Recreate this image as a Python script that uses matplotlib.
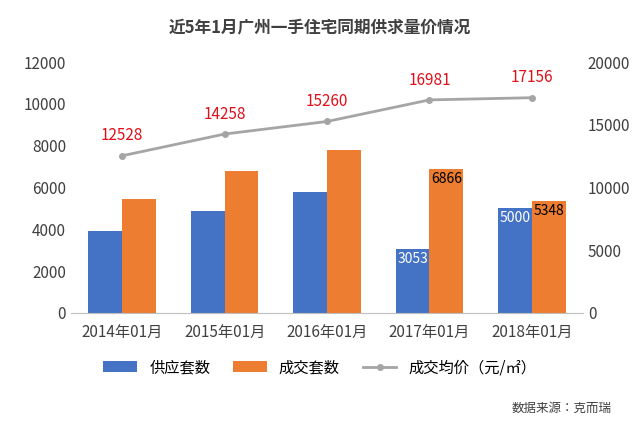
import numpy as np
import matplotlib.pyplot as plt

plt.rcParams['font.family'] = ['Noto Sans CJK JP', 'Noto Sans CJK SC', 'DejaVu Sans']

years = ['2014年01月', '2015年01月', '2016年01月', '2017年01月', '2018年01月']
supply = [3900, 4850, 5800, 3053, 5000]
deals = [5450, 6800, 7800, 6866, 5348]
price = [12528, 14258, 15260, 16981, 17156]

fig = plt.figure(figsize=(6.4, 4.25), dpi=100)
ax = fig.add_axes([0.111, 0.264, 0.80, 0.59])
ax2 = ax.twinx()

x = np.arange(len(years))
w = 0.33
ax.bar(x - w / 2, supply, w, color='#4472C4', label='供应套数')
ax.bar(x + w / 2, deals, w, color='#ED7D31', label='成交套数')
ax2.plot(x, price, color='#A5A5A5', lw=2, marker='o', ms=4, label='成交均价（元/㎡）')

# bar labels only on the last two years, as in the reference
for i in [3, 4]:
    ax.text(x[i] - w / 2, supply[i] - 150, str(supply[i]), ha='center', va='top', color='white', fontsize=10)
    ax.text(x[i] + w / 2, deals[i] - 150, str(deals[i]), ha='center', va='top', color='black', fontsize=10)
for i in range(len(years)):
    ax2.text(x[i], price[i] + 900, str(price[i]), ha='center', va='bottom', color='#E0101A', fontsize=11)

ax.set_ylim(0, 12000)
ax.set_yticks(range(0, 12001, 2000))
ax2.set_ylim(0, 20000)
ax2.set_yticks(range(0, 20001, 5000))
ax.set_xlim(-0.5, 4.5)
ax.set_xticks(x)
ax.set_xticklabels(years)
for a in (ax, ax2):
    for s in a.spines.values():
        s.set_visible(False)
    a.tick_params(length=0, labelsize=11, colors='#404040')
ax.spines['bottom'].set_visible(True)
ax.spines['bottom'].set_color('#BFBFBF')
ax.tick_params(axis='x', pad=8)

fig.text(0.5, 0.935, '近5年1月广州一手住宅同期供求量价情况', ha='center', va='center',
         fontsize=12, fontweight='bold', color='#404040')

h1, l1 = ax.get_legend_handles_labels()
h2, l2 = ax2.get_legend_handles_labels()
fig.legend(h1 + h2, l1 + l2, loc='center', bbox_to_anchor=(0.5, 0.135), ncol=3,
           frameon=False, fontsize=11, handlelength=2.2, columnspacing=1.5)

fig.text(0.955, 0.04, '数据来源：克而瑞', ha='right', va='center', fontsize=9, color='#404040')

fig.savefig('out.png', dpi=100, facecolor='white')
